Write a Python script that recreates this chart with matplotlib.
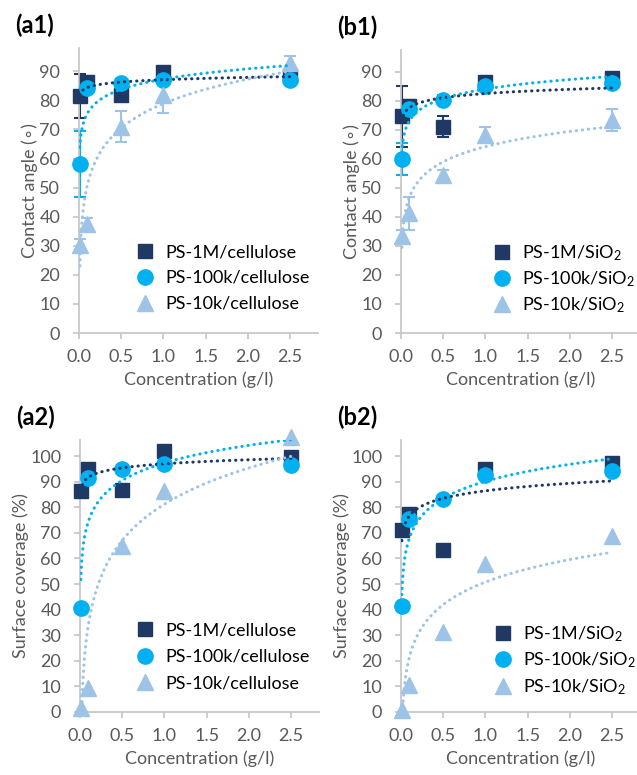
import numpy as np
import matplotlib
matplotlib.use("Agg")
import matplotlib.pyplot as plt

plt.rcParams['font.family'] = ['Lato', 'DejaVu Sans']
plt.rcParams['mathtext.fontset'] = 'custom'
plt.rcParams['mathtext.rm'] = 'Lato'
plt.rcParams['mathtext.it'] = 'Lato:italic'

# concentration in g/l (first point is the bare substrate, plotted near zero)
conc = [0.01, 0.1, 0.5, 1.0, 2.5]

# contact angle on cellulose
ca_cel_1m = [81.5, 86.3, 81.8, 89.8, 88.3]
ca_cel_100k = [58.1, 84.4, 86.0, 87.1, 86.9]
ca_cel_10k = [30.3, 37.5, 70.9, 81.8, 92.9]
ca_cel_1m_err = [7.5, 2.0, 2.0, 1.5, 1.5]
ca_cel_100k_err = [11.5, 2.0, 1.5, 1.5, 1.5]
ca_cel_10k_err = [2.0, 2.0, 5.3, 6.0, 2.5]

# contact angle on SiO2
ca_si_1m = [74.7, 78.3, 71.1, 86.6, 87.8]
ca_si_100k = [59.8, 77.2, 80.4, 85.2, 86.0]
ca_si_10k = [33.5, 41.2, 54.3, 68.3, 73.4]
ca_si_1m_err = [10.5, 2.0, 3.5, 1.5, 1.5]
ca_si_100k_err = [5.5, 1.5, 1.5, 1.5, 1.5]
ca_si_10k_err = [2.0, 5.6, 2.0, 2.5, 3.9]

# surface coverage (%)
sc_cel_1m = [86.3, 94.9, 86.7, 102.1, 99.7]
sc_cel_100k = [40.7, 91.5, 94.8, 96.9, 96.7]
sc_cel_10k = [1.5, 9.4, 64.9, 86.3, 107.6]
sc_si_1m = [71.0, 77.5, 63.2, 94.8, 97.4]
sc_si_100k = [41.3, 75.3, 83.1, 92.5, 94.2]
sc_si_10k = [0.6, 10.6, 31.2, 58.0, 68.6]

labels_cel = ['PS-1M/cellulose', 'PS-100k/cellulose', 'PS-10k/cellulose']
labels_si = ['PS-1M/SiO$_\\mathrm{2}$', 'PS-100k/SiO$_\\mathrm{2}$', 'PS-10k/SiO$_\\mathrm{2}$']

colors = ['#203864', '#00B0F0', '#9DC3E6']
markers = ['s', 'o', '^']
msizes = [10.5, 11, 11.5]
grey = '#595959'
axis_grey = '#C8C8C8'

W, H = 637, 775
fig = plt.figure(figsize=(W / 100, H / 100), dpi=100)


def px_rect(left, top, right, bottom):
    return [left / W, 1 - bottom / H, (right - left) / W, (bottom - top) / H]


def panel(box, series, errs, labels, ylabel, ymax, tag, leg_xy, spacing):
    ax = fig.add_axes(px_rect(*box))
    x = np.array(conc)
    handles = []
    for i, y in enumerate(series):
        if errs is not None:
            eb = ax.errorbar(x, y, yerr=errs[i], fmt='none', ecolor=colors[i],
                             elinewidth=1.5, capsize=4, capthick=1.5, zorder=2)
            for art in eb.lines[1] + eb.lines[2]:
                art.set_clip_on(False)
        h, = ax.plot(x, y, linestyle='none', marker=markers[i], ms=msizes[i],
                     color=colors[i], mec=colors[i], zorder=3, label=labels[i],
                     clip_on=False)
        handles.append(h)
    # logarithmic trendlines on top of the markers
    xt = np.geomspace(x[0], x[-1], 200)
    for i, y in enumerate(series):
        b, a = np.polyfit(np.log(x), y, 1)
        ax.plot(xt, a + b * np.log(xt), color=colors[i], lw=2.2,
                linestyle=(0, (0.1, 1.9)), dash_capstyle='round', zorder=4)
    ax.set_xlim(0, 2.83)
    ax.set_ylim(0, ymax)
    ax.set_xticks([0, 0.5, 1.0, 1.5, 2.0, 2.5])
    ax.set_xticklabels(['0.0', '0.5', '1.0', '1.5', '2.0', '2.5'])
    ax.set_yticks(np.arange(0, ymax, 10))
    for s in ['top', 'right']:
        ax.spines[s].set_visible(False)
    for s in ['left', 'bottom']:
        ax.spines[s].set_color(axis_grey)
        ax.spines[s].set_linewidth(1.3)
    ax.tick_params(colors=axis_grey, labelcolor=grey, labelsize=13,
                   length=4.5, width=1.3)
    ax.tick_params(axis='y', pad=9)
    ax.tick_params(axis='x', pad=7)
    ax.set_xlabel('Concentration (g/l)', color=grey, fontsize=13, labelpad=5)
    ax.set_ylabel(ylabel, color=grey, fontsize=13, labelpad=1)
    fig.text((box[0] - 64) / W, 1 - (box[1] - 34) / H, tag, fontsize=17,
             fontweight='bold', color='black', ha='left', va='top')
    ax.legend(handles=handles, loc='upper left',
              bbox_to_anchor=(leg_xy[0] / W, 1 - leg_xy[1] / H),
              bbox_transform=fig.transFigure,
              frameon=False, fontsize=13, labelcolor='black',
              handletextpad=0.6, labelspacing=spacing, borderpad=0,
              borderaxespad=0, handlelength=1.0)
    return ax


panel((79, 48, 318, 333),
      [ca_cel_1m, ca_cel_100k, ca_cel_10k],
      [ca_cel_1m_err, ca_cel_100k_err, ca_cel_10k_err],
      labels_cel, 'Contact angle (\u2218)', 98, '(a1)', (136, 244), 0.55)
panel((401, 50, 640, 333),
      [ca_si_1m, ca_si_100k, ca_si_10k],
      [ca_si_1m_err, ca_si_100k_err, ca_si_10k_err],
      labels_si, 'Contact angle (\u2218)', 97.5, '(b1)', (493, 243), 0.35)
panel((80, 440, 319, 712),
      [sc_cel_1m, sc_cel_100k, sc_cel_10k], None,
      labels_cel, 'Surface coverage (%)', 106.3, '(a2)', (136, 622), 0.6)
panel((401, 440, 640, 712),
      [sc_si_1m, sc_si_100k, sc_si_10k], None,
      labels_si, 'Surface coverage (%)', 106.3, '(b2)', (494, 624), 0.38)

fig.savefig('out.png', dpi=100)
